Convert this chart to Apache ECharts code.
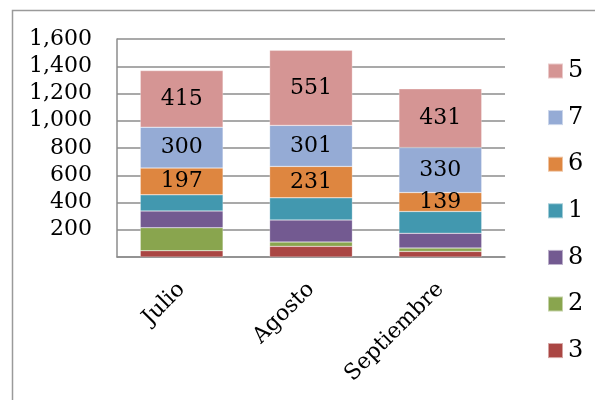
<!DOCTYPE html>
<html>
<head>
<meta charset="utf-8">
<script src="https://cdn.jsdelivr.net/npm/echarts@6/dist/echarts.min.js"></script>
<style>
  html, body { margin: 0; padding: 0; background: #fff; }
  #chart { width: 595px; height: 400px; }
</style>
</head>
<body>
<div id="chart"></div>
<script>
// meses
const categories = ["Julio", "Agosto", "Septiembre"];
// series, de abajo hacia arriba en la pila
const serie3 = [46, 78, 41];
const serie2 = [169, 32, 25];
const serie8 = [123, 162, 108];
const serie1 = [118, 162, 160];
const serie6 = [197, 231, 139];
const serie7 = [300, 301, 330];
const serie5 = [415, 551, 431];
const yTicks = [0, 200, 400, 600, 800, 1000, 1200, 1400, 1600];

const font = "DejaVu Serif";

function barSerie(name, data, color, showLabel) {
  return {
    name: name,
    type: "bar",
    stack: "total",
    data: data,
    barWidth: "64%",
    itemStyle: { color: color, borderColor: "rgba(255,255,255,0.5)", borderWidth: 0.5 },
    label: {
      show: showLabel,
      position: "inside",
      color: "#000",
      fontFamily: font,
      fontSize: 22
    }
  };
}

const myChart = echarts.init(document.getElementById("chart"));
myChart.setOption({
  animation: false,
  graphic: [
    {
      type: "rect",
      shape: { x: 12.5, y: 10.5, width: 700, height: 500 },
      style: { fill: "none", stroke: "#9a9a9a", lineWidth: 1.5 },
      silent: true
    }
  ],
  grid: { left: 117, top: 39, right: 90, bottom: 143 },
  legend: {
    orient: "vertical",
    left: 547,
    top: 59,
    padding: 0,
    itemWidth: 15,
    itemHeight: 15,
    itemGap: 22.6,
    icon: "rect",
    textStyle: { fontFamily: font, fontSize: 24, color: "#000" },
    data: ["5", "7", "6", "1", "8", "2", "3"]
  },
  xAxis: {
    type: "category",
    data: categories,
    axisLine: { show: true, lineStyle: { color: "#8c8c8c", width: 1.5 } },
    axisTick: { show: false },
    axisLabel: {
      rotate: 45,
      margin: 29,
      interval: 0,
      color: "#000",
      fontFamily: font,
      fontSize: 22
    }
  },
  yAxis: {
    type: "value",
    min: yTicks[0],
    max: yTicks[yTicks.length - 1],
    interval: yTicks[1] - yTicks[0],
    axisLine: { show: true, lineStyle: { color: "#8c8c8c", width: 1.5 } },
    axisTick: { show: false },
    splitLine: { show: true, lineStyle: { color: "#8c8c8c", width: 1.5 } },
    axisLabel: {
      margin: 25,
      color: "#000",
      fontFamily: font,
      fontSize: 22,
      formatter: function (v) {
        return v === 0 ? "" : v.toLocaleString("en-US");
      }
    }
  },
  series: [
    barSerie("3", serie3, "#AA4643", false),
    barSerie("2", serie2, "#89A54E", false),
    barSerie("8", serie8, "#735A91", false),
    barSerie("1", serie1, "#4298AF", false),
    barSerie("6", serie6, "#DE8640", true),
    barSerie("7", serie7, "#95ABD5", true),
    barSerie("5", serie5, "#D59594", true)
  ]
});
</script>
</body>
</html>
